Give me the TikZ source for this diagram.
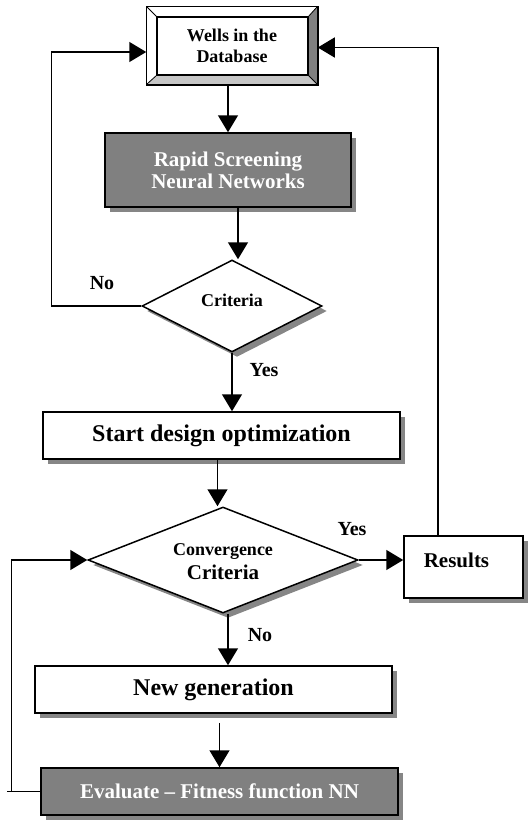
\documentclass[tikz,border=0pt]{standalone}
\usepackage{fontspec}
\setmainfont{Liberation Serif}
\usetikzlibrary{shapes.geometric,arrows.meta,shadows,calc}
\newcommand{\fs}[1]{\fontsize{#1}{1.2\dimexpr#1pt\relax}\selectfont\bfseries}
\begin{document}
\begin{tikzpicture}[x=1pt,y=-1pt,line width=1.5pt,
    shad/.style={drop shadow={shadow xshift=5pt,shadow yshift=-5pt,fill=gray!95,opacity=1}},
    box/.style={draw,fill=white,shad,inner sep=0pt},
    darkbox/.style={draw,fill=gray,text=white,shad,inner sep=0pt},
    dia/.style={diamond,draw,fill=white,shad,inner sep=0pt},
    arr/.style={-{Triangle[width=20pt,length=17pt]}},
    lbl/.style={font=\fs{20}}]
  \useasboundingbox (0,0) rectangle (528,820);
  % nodes
  \node[draw,minimum width=170pt,minimum height=77pt,inner sep=0pt] (wells) at (232,45.5) {};
  \fill[white] (147,7) -- (317,7) -- (308,17) -- (157,17) -- (157,75) -- (147,84) -- cycle;
  \fill[gray] (317,7) -- (317,84) -- (308,75) -- (308,17) -- cycle;
  \fill[gray!45] (147,84) -- (317,84) -- (308,75) -- (157,75) -- cycle;
  \draw (wells.north west) rectangle (wells.south east);
  \draw (157,17) rectangle (308,75);
  \draw[line width=.8pt] (147,7) -- (157,17) (317,7) -- (308,17) (147,84) -- (157,75) (317,84) -- (308,75);
  \node[align=center,font=\fs{18}] at (232,46) {Wells in the\\Database};
  \node[darkbox,minimum width=246pt,minimum height=74pt,align=center,font=\fs{21}] (rapid) at (228,170)
    {Rapid Screening\\[-3pt]Neural Networks};
  \node[dia,minimum width=180pt,minimum height=92pt,label={[yshift=6pt,font=\fs{18}]center:Criteria}] (crit) at (232,306) {};
  \node[box,minimum width=357pt,minimum height=47pt,font=\fs{24}] (start) at (221.5,435.5) {Start design optimization};
  \node[dia,minimum width=270pt,minimum height=106pt,
    label={[align=center,font=\fs{21},yshift=-2pt]center:{{\fs{18}Convergence}\\[-1pt]Criteria}}] (conv) at (223,560) {};
  \node[box,minimum width=119pt,minimum height=62pt,label={[xshift=-7pt,yshift=7pt,font=\fs{21}]center:Results}] (res) at (463.5,567) {};
  \node[box,minimum width=357pt,minimum height=47pt,font=\fs{24}] (newgen) at (213.5,689.5) {New generation};
  \node[darkbox,minimum width=357pt,minimum height=47pt,font=\fs{21}] (eval) at (219.5,791.5) {Evaluate -- Fitness function NN};
  % labels
  \node[lbl] (no1) at (102,283) {No};
  \node[lbl] (yes1) at (264,370) {Yes};
  \node[lbl] (yes2) at (352,529) {Yes};
  \node[lbl] (no2) at (260,635) {No};
  % connectors
  \draw[arr] (wells.south -| rapid.north) -- (rapid.north);
  \draw[arr] ([xshift=10pt]rapid.south) -- ([xshift=10pt]rapid.south |- crit.north);
  \draw[arr] (crit.west) -- ++(-90,0) |- ([yshift=-6.5pt]wells.west);
  \draw[arr] (crit.south) -- (crit.south |- start.north);
  \draw[arr] ([xshift=-4pt]start.south) -- ([xshift=-4pt]start.south |- conv.north);
  \draw[arr] (conv.east) -- (conv.east -| res.west);
  \draw[arr] ([xshift=-25.5pt]res.north) |- ([yshift=-2pt]wells.east);
  \draw[arr] ([xshift=5pt]conv.south) -- ([xshift=5pt]conv.south |- newgen.north);
  \draw[arr] ([yshift=-9pt]newgen.south -| eval.north) -- (eval.north);
  \draw (eval.west) -- ++(-33,0);
  \draw[arr] ([xshift=-29pt]eval.west) |- (conv.west);
\end{tikzpicture}
\end{document}
